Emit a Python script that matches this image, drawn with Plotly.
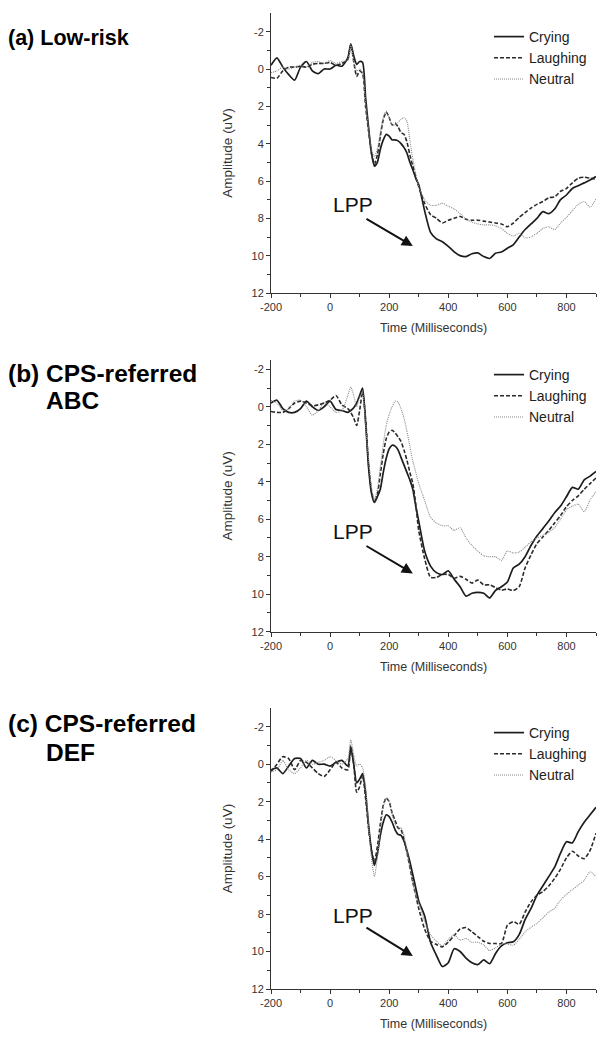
import plotly.graph_objects as go

# ---------------- data ----------------
TIME = ([-200, -180, -160, -140, -120, -100, -80, -60, -40, -20, 0, 20, 40, 60]
        + list(range(70, 301, 10)) + list(range(320, 901, 20)))

# (a) Low-risk
A_CRY = [-0.2, -0.6, -0.1, 0.3, 0.6, -0.1, -0.4, 0.1, 0.25, 0.0, 0.0, -0.2, -0.15, -0.6,
         -1.35, -0.7, -0.25, -0.4, -0.35, 1.5, 3.1, 4.5, 5.2, 5.0, 4.3, 3.8, 3.5, 3.6, 3.8, 3.8,
         3.85, 4.0, 4.2, 4.5, 5.0, 5.4, 5.85, 6.2,
         7.6, 8.75, 9.1, 9.25, 9.5, 9.8, 10.0, 10.05, 9.9, 9.85, 10.05, 10.15, 9.87, 9.8, 9.6,
         9.42, 9.0, 8.6, 8.3, 8.0, 7.64, 7.75, 7.5, 7.0, 6.75, 6.4, 6.25, 6.1, 5.95, 5.76]
A_LAU = [0.45, 0.5, 0.1, -0.1, -0.1, -0.15, -0.1, -0.25, -0.3, -0.3, -0.35, -0.2, -0.3, -0.5,
         -1.3, -0.4, 0.4, 0.1, 0.25, 2.0, 3.3, 4.5, 5.1, 4.6, 3.6, 2.7, 2.3, 2.6, 3.0, 2.9,
         3.1, 3.4, 3.5, 3.9, 4.6, 5.2, 5.8, 6.3,
         7.2, 7.8, 8.0, 8.25, 8.1, 8.0, 7.9, 8.05, 8.1, 8.1, 8.15, 8.2, 8.25, 8.3, 8.45,
         8.26, 7.95, 7.7, 7.45, 7.25, 7.1, 6.9, 6.85, 6.55, 6.4, 6.1, 5.85, 5.8, 5.85, 5.9]
A_NEU = [0.2, 0.1, -0.1, 0.0, -0.1, -0.2, -0.1, -0.35, -0.4, -0.3, -0.45, -0.3, -0.4, -0.5,
         -1.3, -0.4, 0.1, 0.0, 0.2, 1.8, 3.2, 4.3, 4.7, 4.3, 3.4, 2.6, 2.25, 2.6, 3.0, 3.0,
         2.85, 2.7, 2.6, 2.8, 3.8, 4.8, 5.6, 6.3,
         7.0, 7.3, 7.3, 7.2, 7.35, 7.5, 7.75, 8.05, 8.2, 8.3, 8.35, 8.35, 8.4, 8.55, 8.8,
         8.95, 8.8, 9.05, 9.0, 8.8, 8.55, 8.45, 8.6, 8.25, 7.95, 7.6, 7.25, 7.1, 7.4, 6.95]

# (b) CPS-referred ABC
B_CRY = [-0.2, -0.35, 0.1, 0.3, 0.3, 0.1, -0.3, 0.0, 0.2, 0.0, -0.3, 0.15, 0.2, 0.3,
         0.2, 0.05, -0.2, -0.6, -1.0, 0.8, 3.2, 4.6, 5.1, 4.8, 4.4, 3.5, 2.75, 2.25, 2.05, 2.1,
         2.3, 2.7, 3.1, 3.5, 3.9, 4.4, 5.3, 6.1,
         7.7, 8.5, 8.85, 8.95, 8.75, 9.2, 9.6, 10.1, 9.95, 9.9, 9.95, 10.2, 9.8, 9.6, 9.35,
         8.6, 8.4, 8.0, 7.4, 6.9, 6.5, 6.1, 5.65, 5.3, 4.8, 4.3, 4.4, 3.9, 3.7, 3.45]
B_LAU = [0.25, 0.3, 0.3, 0.1, -0.2, -0.3, -0.2, -0.05, -0.1, -0.2, -0.35, -0.6, -0.1, 0.1,
         0.3, 0.6, 1.0, 0.2, -0.8, 0.6, 3.0, 4.5, 5.1, 4.7, 3.6, 2.5, 1.7, 1.35, 1.25, 1.4,
         1.6, 1.85, 2.3, 2.85, 3.5, 4.1, 5.2, 6.6,
         8.1, 9.1, 9.1, 8.95, 8.95, 9.15, 9.05, 9.2, 9.4, 9.25, 9.5, 9.5, 9.65, 9.78, 9.72,
         9.8, 9.6, 8.6, 7.9, 7.3, 6.95, 6.6, 6.2, 5.8, 5.33, 5.0, 4.75, 4.4, 4.1, 3.8]
B_NEU = [-0.35, -0.2, 0.2, 0.1, -0.3, -0.35, 0.0, 0.45, 0.2, -0.2, 0.0, 0.3, 0.2, -0.6,
         -1.05, -0.6, 0.0, -0.5, -0.7, 1.0, 2.8, 4.3, 4.95, 4.4, 3.2, 2.0, 1.0, 0.4, 0.0, -0.3,
         -0.25, 0.1, 0.6, 1.3, 2.1, 2.9, 3.5, 4.1,
         5.0, 5.9, 6.2, 6.35, 6.35, 6.6, 6.45, 7.0, 7.4, 7.7, 7.95, 8.0, 8.0, 8.2, 7.7,
         7.8, 7.75, 7.5, 7.2, 7.0, 6.85, 6.7, 6.45, 6.0, 5.5, 5.3, 5.2, 5.6, 4.97, 4.53]

# (c) CPS-referred DEF
C_CRY = [0.3, 0.2, 0.5, 0.1, -0.3, -0.3, 0.2, -0.2, 0.0, 0.0, 0.1, -0.1, -0.2, 0.1,
         -0.9, 0.0, 1.0, 0.8, 0.5, 1.5, 3.2, 4.6, 5.4, 4.8, 3.8, 3.1, 2.7, 2.8, 3.1, 3.5,
         3.75, 3.8, 4.1, 4.6, 5.2, 5.9, 6.6, 7.3,
         8.1, 9.5, 10.2, 10.8, 10.6, 9.85, 10.0, 10.35, 10.6, 10.7, 10.45, 10.65, 10.1, 9.7, 9.53,
         9.48, 9.1, 8.3, 7.7, 7.0, 6.5, 6.0, 5.5, 4.75, 4.14, 4.2, 3.6, 3.1, 2.7, 2.3]
C_LAU = [0.4, 0.0, -0.4, -0.3, 0.3, -0.2, -0.1, 0.2, 0.5, 0.65, 0.3, -0.1, 0.2, 0.3,
         -1.0, 0.0, 1.5, 1.2, 0.6, 1.8, 3.4, 4.6, 5.2, 4.4, 3.2, 2.2, 1.8, 2.0, 2.6, 3.0,
         3.4, 3.5, 4.0, 4.7, 5.5, 6.3, 7.0, 7.7,
         8.8, 9.45, 9.62, 9.75, 9.5, 9.15, 8.8, 8.72, 8.95, 9.2, 9.45, 9.57, 9.57, 9.57, 8.6,
         8.4, 8.55, 7.9, 7.35, 7.0, 6.8, 6.5, 6.1, 5.6, 5.0, 4.65, 4.9, 5.05, 4.6, 3.69]
C_NEU = [0.4, 0.3, -0.2, 0.3, 0.5, 0.2, -0.2, 0.0, -0.1, -0.2, -0.4, -0.2, 0.0, -0.3,
         -1.3, -0.5, 0.1, 0.0, 0.2, 1.2, 3.2, 5.0, 6.0, 5.0, 3.5, 2.3, 1.8, 2.0, 2.7, 3.2,
         3.4, 3.4, 3.8, 4.6, 5.5, 6.3, 7.0, 7.4,
         8.4, 9.1, 9.45, 9.7, 9.35, 9.1, 9.39, 9.3, 9.5, 9.5, 9.65, 9.95, 9.8, 9.6, 9.6,
         9.66, 9.35, 8.95, 8.7, 8.5, 8.2, 7.9, 7.7, 7.25, 6.95, 6.7, 6.45, 6.2, 5.75, 6.0]

SERIES_NAMES = ["Crying", "Laughing", "Neutral"]
PANEL_DATA = [(A_CRY, A_LAU, A_NEU), (B_CRY, B_LAU, B_NEU), (C_CRY, C_LAU, C_NEU)]
PANEL_TITLES = [("(a) Low-risk", None), ("(b) CPS-referred", "ABC"), ("(c) CPS-referred", "DEF")]

X_TICKS = [-200, 0, 200, 400, 600, 800]
X_TICKTEXT = ["-200", "0", "200", "400", "600", "800"]
Y_TICKS = [-2, 0, 2, 4, 6, 8, 10, 12]
Y_TICKTEXT = ["-2", "0", "2", "4", "6", "8", "10", "12"]
Y_TOPS = [-3, -2.5, -3]
LPP_TEXT = [(79, 7.28), (79, 6.67), (79, 8.05)]
LPP_ARROW = [((118, 7.98), (280, 9.48)), ((118, 7.38), (280, 8.89)), ((118, 8.68), (280, 10.24))]

# ---------------- layout geometry (pixels) ----------------
W, H = 610, 1047
FONT = "Liberation Sans, Arial, sans-serif"
X_DOM = [271 / W, 596 / W]
Y_PIX = [(13, 293), (359.9, 631.7), (708, 989)]   # top, bottom of each plot
LEG_TOP = [21, 359, 717]
LABEL_Y = [(38, None), (373, 400), (723, 752)]
LABEL_SIZE = [21.5, 24.5, 24.5]

STYLES = [dict(color="#1c1c1c", width=1.7, dash="solid"),
          dict(color="#2a2a2a", width=1.6, dash="4px,2px"),
          dict(color="#8a8a8a", width=1.1, dash="1px,1px")]

fig = go.Figure()
for p in range(3):
    ax = "" if p == 0 else str(p + 1)
    leg = "legend" if p == 0 else "legend" + str(p + 1)
    for s in range(3):
        fig.add_trace(go.Scatter(
            x=TIME, y=PANEL_DATA[p][s], mode="lines", name=SERIES_NAMES[s],
            line=dict(shape="spline", smoothing=0.6, **STYLES[s]),
            xaxis="x" + ax, yaxis="y" + ax, legend=leg, showlegend=True))

layout = dict(width=W, height=H, margin=dict(l=0, r=0, t=0, b=0, autoexpand=False),
              paper_bgcolor="white", plot_bgcolor="white",
              font=dict(family=FONT, color="#333"), annotations=[])

for p in range(3):
    ax = "" if p == 0 else str(p + 1)
    top, bot = Y_PIX[p]
    layout["xaxis" + ax] = dict(
        domain=X_DOM, range=[-200, 900], anchor="y" + ax,
        tickvals=X_TICKS, ticktext=X_TICKTEXT, showgrid=False, zeroline=False,
        showline=True, linecolor="#333", linewidth=1, ticks="outside", ticklen=4,
        tickcolor="#333", tickfont=dict(size=11, color="#333"),
        minor=dict(tickvals=[-100, 100, 300, 500, 700, 900], ticks="outside", ticklen=3, tickcolor="#333"),
        title=dict(text="Time (Milliseconds)", font=dict(size=12.5, color="#333"), standoff=11))
    layout["yaxis" + ax] = dict(
        domain=[1 - bot / H, 1 - top / H], range=[12, Y_TOPS[p]], anchor="x" + ax,
        tickvals=Y_TICKS, ticktext=Y_TICKTEXT, showgrid=False, zeroline=False,
        showline=True, linecolor="#333", linewidth=1, ticks="outside", ticklen=4,
        tickcolor="#333", tickfont=dict(size=11, color="#333"),
        minor=dict(tickvals=[-1, 1, 3, 5, 7, 9, 11], ticks="outside", ticklen=3, tickcolor="#333"),
        title=dict(text="Amplitude (uV)", font=dict(size=13.5, color="#333"), standoff=15))
    legname = "legend" if p == 0 else "legend" + str(p + 1)
    layout[legname] = dict(x=489 / W, y=1 - LEG_TOP[p] / H, xanchor="left", yanchor="top",
                           bgcolor="rgba(0,0,0,0)", font=dict(size=14, color="#222", family=FONT),
                           itemwidth=30, tracegroupgap=0)

    # LPP label and arrow
    tx, ty = LPP_TEXT[p]
    layout["annotations"].append(dict(x=tx, y=ty, xref="x" + ax, yref="y" + ax, text="LPP",
                                      showarrow=False, font=dict(size=21, color="#111")))
    (x0, y0), (x1, y1) = LPP_ARROW[p]
    layout["annotations"].append(dict(x=x1, y=y1, ax=x0, ay=y0, xref="x" + ax, yref="y" + ax,
                                      axref="x" + ax, ayref="y" + ax, text="", showarrow=True,
                                      arrowhead=2, arrowsize=1.1, arrowwidth=2, arrowcolor="#111"))

    # panel titles
    t1, t2 = PANEL_TITLES[p]
    y1p, y2p = LABEL_Y[p]
    layout["annotations"].append(dict(x=6 / W, y=1 - y1p / H, xref="paper", yref="paper",
                                      xanchor="left", yanchor="middle", text="<b>" + t1 + "</b>",
                                      showarrow=False, font=dict(size=LABEL_SIZE[p], color="#000", family=FONT)))
    if t2:
        layout["annotations"].append(dict(x=44 / W, y=1 - y2p / H, xref="paper", yref="paper",
                                          xanchor="left", yanchor="middle", text="<b>" + t2 + "</b>",
                                          showarrow=False, font=dict(size=LABEL_SIZE[p], color="#000", family=FONT)))

fig.update_layout(**layout)
fig.write_html("out.html", config={"displayModeBar": False},
               post_script="document.body.style.margin='0';document.body.style.overflow='hidden';")
